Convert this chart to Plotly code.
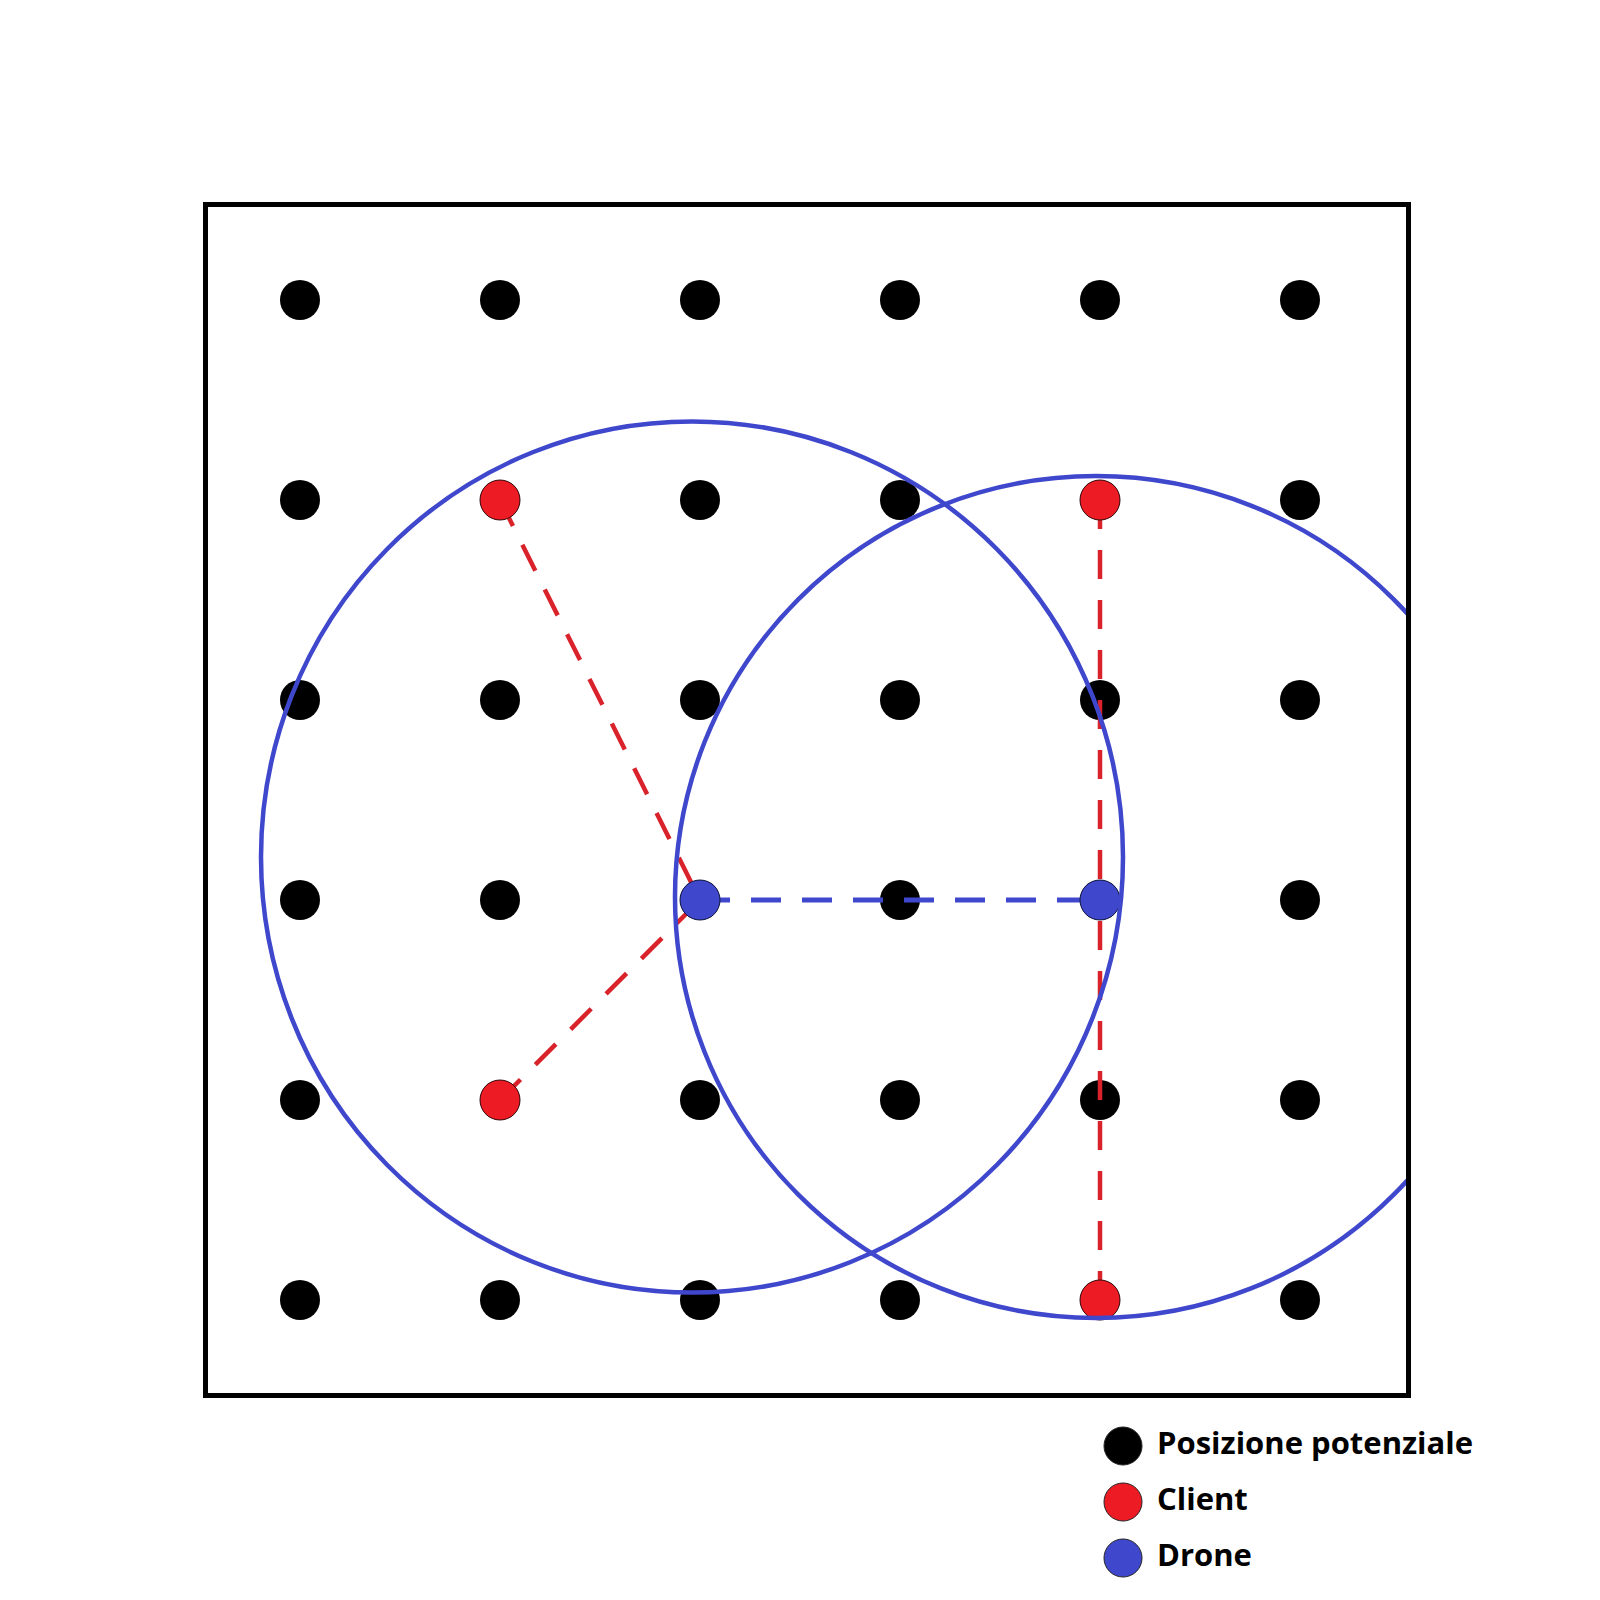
import plotly.graph_objects as go

# grid of potential drone positions (column, row)
grid_cols = [0, 1, 2, 3, 4, 5]
grid_rows = [0, 1, 2, 3, 4, 5]

client_x = [1, 4, 1, 4]
client_y = [1, 1, 4, 5]

drone_x = [2, 4]
drone_y = [3, 3]

# which client is served by which drone
link_client = [0, 2, 1, 3]
link_drone = [0, 0, 1, 1]

# drone-to-drone link
relay_from = [0]
relay_to = [1]

# coverage areas (hand drawn, so slightly elliptical)
cover_cx = [1.96, 3.98]
cover_cy = [2.785, 2.985]
cover_rx = [2.155, 2.105]
cover_ry = [2.178, 2.105]

legend_labels = ["Posizione potenziale", "Client", "Drone"]

BLACK = "#000000"
RED = "#ED1C24"
RED_LINE = "#D9222A"
BLUE = "#3F48CC"

# the page body keeps its 8px margin, so the figure is 1584 wide
# and every position below is given in screen pixels minus that margin
OFF = 8
W = 1600 - 2 * OFF
H = 1600 - 2 * OFF

fig = go.Figure()

# potential positions
pos_x = [c for r in grid_rows for c in grid_cols]
pos_y = [r for r in grid_rows for c in grid_cols]
fig.add_trace(go.Scatter(
    x=pos_x, y=pos_y,
    mode='markers',
    marker=dict(size=40, color=BLACK),
    showlegend=False,
    hoverinfo='skip'))

# drone-drone link
rx, ry = [], []
for a, b in zip(relay_from, relay_to):
    rx += [drone_x[a], drone_x[b], None]
    ry += [drone_y[a], drone_y[b], None]
fig.add_trace(go.Scatter(
    x=rx, y=ry,
    mode='lines',
    line=dict(color=BLUE, width=5, dash='30px,21px'),
    showlegend=False,
    hoverinfo='skip'))

# client-drone links
lx, ly = [], []
for c, d in zip(link_client, link_drone):
    lx += [client_x[c], drone_x[d], None]
    ly += [client_y[c], drone_y[d], None]
fig.add_trace(go.Scatter(
    x=lx, y=ly,
    mode='lines',
    line=dict(color=RED_LINE, width=4.5, dash='29px,21px'),
    showlegend=False,
    hoverinfo='skip'))

fig.add_trace(go.Scatter(
    x=client_x, y=client_y,
    mode='markers',
    marker=dict(size=40, color=RED, line=dict(color='#3a1010', width=1)),
    showlegend=False,
    hoverinfo='skip'))

fig.add_trace(go.Scatter(
    x=drone_x, y=drone_y,
    mode='markers',
    marker=dict(size=40, color=BLUE, line=dict(color='#151a40', width=1)),
    showlegend=False,
    hoverinfo='skip'))

# coverage circles (clipped by the frame)
for cx, cy, rxx, ryy in zip(cover_cx, cover_cy, cover_rx, cover_ry):
    fig.add_shape(
        type='circle', xref='x', yref='y',
        x0=cx - rxx, x1=cx + rxx, y0=cy - ryy, y1=cy + ryy,
        line=dict(color=BLUE, width=4.5),
        layer='above')

# hand-made legend with large markers, on a small pixel-scaled subplot
leg_colors = [BLACK, RED, BLUE]
leg_y = [1446, 1502, 1558]
fig.add_trace(go.Scatter(
    x=[1123] * 3, y=leg_y,
    xaxis='x2', yaxis='y2',
    mode='markers',
    marker=dict(size=38, color=leg_colors, line=dict(color='#222222', width=1)),
    showlegend=False,
    hoverinfo='skip'))
fig.add_trace(go.Scatter(
    x=[1157] * 3, y=leg_y,
    xaxis='x2', yaxis='y2',
    mode='text',
    text=legend_labels,
    textposition='middle right',
    textfont=dict(family='Open Sans', size=31, color=BLACK, weight='bold'),
    showlegend=False,
    hoverinfo='skip'))

fig.update_layout(
    width=W,
    height=H,
    margin=dict(l=0, r=0, t=0, b=0),
    paper_bgcolor='white',
    plot_bgcolor='rgba(0,0,0,0)',
    xaxis=dict(
        domain=[(208 - OFF) / W, (1406 - OFF) / W],
        range=[-0.46, 5.53],
        showgrid=False, zeroline=False, showticklabels=False, ticks='',
        showline=True, linecolor=BLACK, linewidth=5, mirror=True),
    yaxis=dict(
        domain=[1 - (1393 - OFF) / H, 1 - (207 - OFF) / H],
        range=[5.465, -0.465],
        showgrid=False, zeroline=False, showticklabels=False, ticks='',
        showline=True, linecolor=BLACK, linewidth=5, mirror=True),
    xaxis2=dict(domain=[(960 - OFF) / W, 1], range=[960, 1600 - OFF],
                anchor='y2', visible=False),
    yaxis2=dict(domain=[0, 1 - (1410 - OFF) / H], range=[1600 - OFF, 1410],
                anchor='x2', visible=False),
)

fig.write_html("out.html")
